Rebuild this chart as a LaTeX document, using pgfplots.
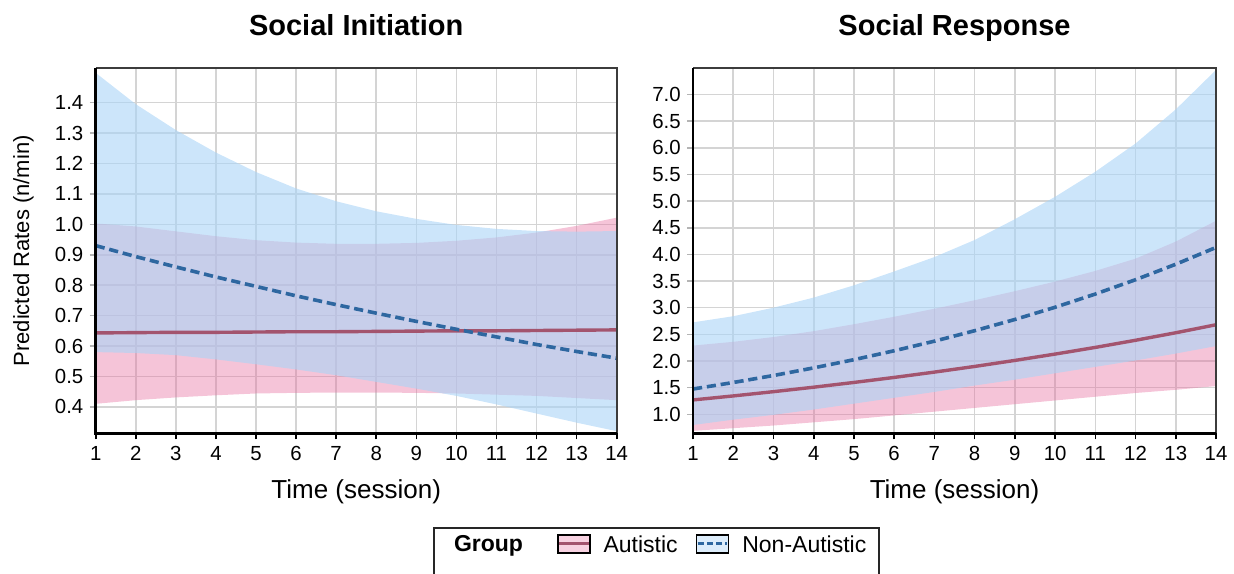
\documentclass[border=0pt]{standalone}
\usepackage{pgfplots}
\pgfplotsset{compat=1.18}
\usepackage{fontspec}
\setmainfont{Liberation Sans}
\definecolor{pinkband}{RGB}{230,108,158}
\definecolor{blueband}{RGB}{170,212,247}
\definecolor{autline}{RGB}{163,84,110}
\definecolor{nonline}{RGB}{46,103,160}
\definecolor{gridc}{RGB}{212,212,212}
\definecolor{framec}{RGB}{60,60,60}

\pgfplotsset{
  panel/.style={
    scale only axis, height=182.5pt,
    xmin=1, xmax=14, xtick={1,...,14},
    grid=major, major grid style={draw=gridc, line width=0.8pt},
    axis line style={draw=none},
    clip mode=individual,
    tick align=outside, xtick pos=bottom, ytick pos=left,
    x tick style={draw=black, line width=0.8pt},
    y tick style={draw=gridc!85!black, line width=0.8pt},
    major tick length=3pt,
    ticklabel style={font=\fontsize{10.2}{12}\selectfont},
    /pgf/number format/assume math mode=true,
    xticklabel style={anchor=base, yshift=-10.6pt},
    yticklabel style={anchor=east, inner sep=0pt, xshift=-3pt,
      /pgf/number format/.cd, fixed, fixed zerofill, precision=1},
    title style={font=\bfseries\fontsize{14.5}{17}\selectfont,
      at={(axis description cs:0.5,1.0575)}, anchor=base, yshift=0pt},
    xlabel style={font=\fontsize{13}{15}\selectfont,
      at={(axis description cs:0.5,-0.1775)}, anchor=base},
    xlabel={Time (session)},
  },
  pinkfill/.style={fill=pinkband, fill opacity=0.4, draw=none, forget plot},
  bluefill/.style={fill=blueband, fill opacity=0.6, draw=none, forget plot},
  autstyle/.style={autline, line width=1.7pt, forget plot},
  nonstyle/.style={nonline, line width=1.8pt, dash pattern=on 4.6pt off 2.4pt, forget plot},
}

\begin{document}
\begin{tikzpicture}

% ---------------- Social Initiation ----------------
\begin{axis}[panel, name=ax1, at={(47.85pt,-216.65pt)}, anchor=south west,
  width=260.5pt, ymin=0.313, ymax=1.513,
  ytick={0.4,0.5,0.6,0.7,0.8,0.9,1.0,1.1,1.2,1.3,1.4},
  title={Social Initiation},
  ylabel={Predicted Rates (n/min)},
  ylabel style={font=\fontsize{11}{13}\selectfont,
    at={(axis description cs:-0.128,0.5)}, anchor=base},
  legend columns=3,
  legend style={at={(axis description cs:0.6474,-0.2567)}, anchor=north west,
    draw=black!85, line width=1pt, font=\fontsize{11.5}{13}\selectfont,
    inner xsep=3.5pt, inner ysep=3pt,
    nodes={inner sep=0pt, text depth=14pt},
    /tikz/every odd column/.append style={column sep=6.5pt},
    /tikz/every even column/.append style={column sep=9pt}},
]
% Autistic ribbon
\addplot[pinkfill] coordinates {
 (1,1.003) (2,0.993) (3,0.977) (4,0.961) (5,0.948) (6,0.940) (7,0.936)
 (8,0.936) (9,0.939) (10,0.946) (11,0.957) (12,0.973) (13,0.995) (14,1.022)
 (14,0.422) (13,0.429) (12,0.436) (11,0.440) (10,0.444) (9,0.446) (8,0.447)
 (7,0.447) (6,0.446) (5,0.444) (4,0.438) (3,0.431) (2,0.422) (1,0.410)
} -- cycle;
% Non-Autistic ribbon
\addplot[bluefill] coordinates {
 (1,1.498) (2,1.395) (3,1.310) (4,1.236) (5,1.172) (6,1.118) (7,1.076)
 (8,1.043) (9,1.018) (10,0.998) (11,0.985) (12,0.978) (13,0.976) (14,0.978)
 (14,0.320) (13,0.348) (12,0.378) (11,0.408) (10,0.436) (9,0.460) (8,0.482)
 (7,0.504) (6,0.523) (5,0.540) (4,0.556) (3,0.570) (2,0.577) (1,0.580)
} -- cycle;
\addplot[autstyle] coordinates {
 (1,0.643) (2,0.644) (3,0.645) (4,0.645) (5,0.646) (6,0.647) (7,0.647)
 (8,0.648) (9,0.649) (10,0.650) (11,0.650) (12,0.651) (13,0.652) (14,0.653)
};
\addplot[nonstyle] coordinates {
 (1,0.930) (2,0.894) (3,0.860) (4,0.827) (5,0.796) (6,0.765) (7,0.736)
 (8,0.708) (9,0.681) (10,0.655) (11,0.630) (12,0.605) (13,0.582) (14,0.560)
};
% legend
\addlegendimage{empty legend}
\addlegendentry{\textbf{Group}\rule{8pt}{0pt}}
\addlegendimage{legend image code/.code={
  \draw[draw=black, line width=0.8pt, fill=pinkband, fill opacity=0.3] (0pt,2.5pt) rectangle (16pt,11.5pt);
  \draw[autline, line width=1.5pt] (0.6pt,7pt) -- (15.4pt,7pt);}}
\addlegendentry{Autistic}
\addlegendimage{legend image code/.code={
  \draw[draw=black, line width=0.8pt, fill=blueband, fill opacity=0.4] (0pt,2.5pt) rectangle (16pt,11.5pt);
  \draw[nonline, line width=1.5pt, dash pattern=on 3pt off 1.6pt] (0.6pt,7pt) -- (15.4pt,7pt);}}
\addlegendentry{Non-Autistic\rule{3pt}{0pt}}
\end{axis}
\draw[framec, line width=1pt] (ax1.north west) -- (ax1.north east) -- (ax1.south east);
\draw[black, line width=1.4pt] (ax1.north west) -- (ax1.south west) -- (ax1.south east);

% ---------------- Social Response ----------------
\begin{axis}[panel, name=ax2, at={(346.5pt,-216.65pt)}, anchor=south west,
  width=261.5pt, ymin=0.644, ymax=7.49,
  ytick={1.0,1.5,2.0,2.5,3.0,3.5,4.0,4.5,5.0,5.5,6.0,6.5,7.0},
  title={Social Response},
]
\addplot[pinkfill] coordinates {
 (1,2.29) (2,2.36) (3,2.45) (4,2.56) (5,2.69) (6,2.83) (7,2.98)
 (8,3.14) (9,3.31) (10,3.49) (11,3.69) (12,3.92) (13,4.24) (14,4.63)
 (14,1.53) (13,1.46) (12,1.40) (11,1.33) (10,1.26) (9,1.19) (8,1.12)
 (7,1.05) (6,0.98) (5,0.91) (4,0.85) (3,0.79) (2,0.74) (1,0.69)
} -- cycle;
\addplot[bluefill] coordinates {
 (1,2.725) (2,2.84) (3,3.00) (4,3.19) (5,3.42) (6,3.68) (7,3.95)
 (8,4.27) (9,4.66) (10,5.08) (11,5.55) (12,6.08) (13,6.72) (14,7.46)
 (14,2.28) (13,2.14) (12,2.01) (11,1.89) (10,1.77) (9,1.65) (8,1.54)
 (7,1.42) (6,1.31) (5,1.20) (4,1.09) (3,0.99) (2,0.90) (1,0.80)
} -- cycle;
\addplot[autstyle] coordinates {
 (1,1.270) (2,1.345) (3,1.425) (4,1.509) (5,1.598) (6,1.692) (7,1.792)
 (8,1.898) (9,2.011) (10,2.130) (11,2.255) (12,2.389) (13,2.530) (14,2.680)
};
\addplot[nonstyle] coordinates {
 (1,1.475) (2,1.597) (3,1.728) (4,1.871) (5,2.025) (6,2.192) (7,2.372)
 (8,2.568) (9,2.779) (10,3.008) (11,3.256) (12,3.525) (13,3.815) (14,4.130)
};
\end{axis}
\draw[framec, line width=1pt] (ax2.north west) -- (ax2.north east) -- (ax2.south east);
\draw[black, line width=1.4pt] (ax2.north west) -- (ax2.south west) -- (ax2.south east);

\pgfresetboundingbox
\useasboundingbox (0pt,0pt) rectangle (617pt,-286.5pt);
\end{tikzpicture}
\end{document}
